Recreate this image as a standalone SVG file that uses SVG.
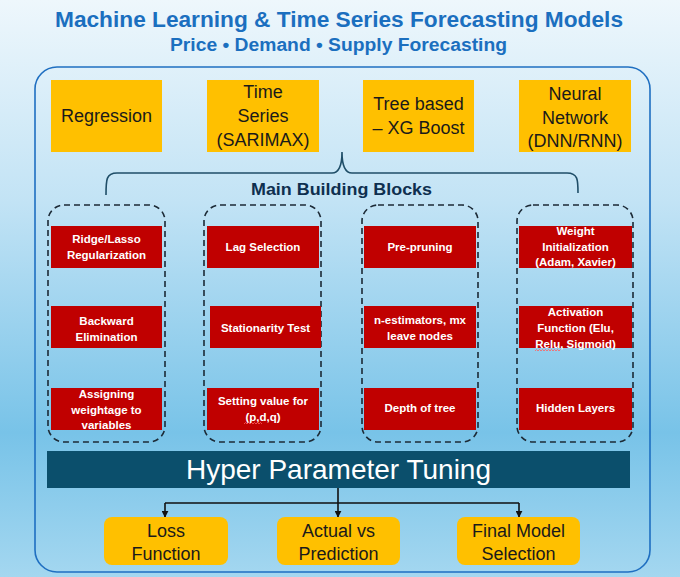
<svg xmlns="http://www.w3.org/2000/svg" width="680" height="577" viewBox="0 0 680 577">
<defs>
<linearGradient id="bg" x1="0" y1="0" x2="0" y2="1">
<stop offset="0" stop-color="#eef7fc"/>
<stop offset="0.35" stop-color="#c2e3f5"/>
<stop offset="0.75" stop-color="#78c3e8"/>
<stop offset="1" stop-color="#a4d7f0"/>
</linearGradient>
<marker id="arr" viewBox="0 0 10 10" refX="9" refY="5" markerWidth="7" markerHeight="7" orient="auto" markerUnits="userSpaceOnUse">
<path d="M0,0 L10,5 L0,10 z" fill="#111"/>
</marker>
<style>
.title{font-family:"Liberation Sans",Arial,sans-serif;font-weight:bold;fill:#1b6fbf;text-anchor:middle}
.yb{fill:#ffc000}
.yt{font-family:"Liberation Sans",Arial,sans-serif;font-size:18px;fill:#1a1a1a;text-anchor:middle}
.dash{fill:none;stroke:#1c2a36;stroke-width:1.6;stroke-dasharray:6 4}
.rb{fill:#c00000}
.rt{font-family:"Liberation Sans",Arial,sans-serif;font-size:11.5px;font-weight:bold;fill:#ffffff;text-anchor:middle}
.conn{fill:none;stroke:#111;stroke-width:1.6}
.sq{fill:none;stroke:#ff6060;stroke-width:0.8}
</style>
</defs>
<rect x="0" y="0" width="680" height="577" fill="url(#bg)"/>
<text class="title" x="339" y="26.5" font-size="22" textLength="568" lengthAdjust="spacingAndGlyphs">Machine Learning &amp; Time Series Forecasting Models</text>
<text class="title" x="338.5" y="51" font-size="17.5" textLength="337" lengthAdjust="spacingAndGlyphs">Price • Demand • Supply Forecasting</text>
<rect id="frame" x="35" y="67" width="615" height="505" rx="22" fill="none" stroke="#1f6fc1" stroke-width="1.6"/>

<g id="model-regression"><rect class="yb" x="51" y="80" width="111" height="72"/><text class="yt" x="106.5" y="122">Regression</text></g>
<g id="model-timeseries"><rect class="yb" x="207" y="80" width="112" height="72"/><text class="yt" x="263" y="98">Time</text><text class="yt" x="263" y="122">Series</text><text class="yt" x="263" y="146">(SARIMAX)</text></g>
<g id="model-tree"><rect class="yb" x="363" y="80" width="111" height="72"/><text class="yt" x="418.5" y="110">Tree based</text><text class="yt" x="418.5" y="134">– XG Boost</text></g>
<g id="model-nn"><rect class="yb" x="519" y="80" width="112" height="72"/><text class="yt" x="575" y="100">Neural</text><text class="yt" x="575" y="124">Network</text><text class="yt" x="575" y="147" font-size="16">(DNN/RNN)</text></g>

<g id="brace">
<path d="M106,195 C106,180 106,173 117,173 L332,173 C339,173 342,166 342,152 C342,166 345,173 352,173 L567,173 C578,173 578,180 578,193" fill="none" stroke="#1f4e68" stroke-width="1.6"/>
<text x="341.5" y="195" font-family="'Liberation Sans',Arial,sans-serif" font-size="17" font-weight="bold" fill="#0e2f4f" text-anchor="middle" textLength="181" lengthAdjust="spacingAndGlyphs">Main Building Blocks</text>
</g>

<g id="col-regression">
<rect class="dash" x="48" y="205" width="117" height="237" rx="16"/>
<g id="b-ridge"><rect class="rb" x="51" y="226" width="111" height="42"/><text class="rt" x="106.5" y="243">Ridge/Lasso</text><text class="rt" x="106.5" y="258.5">Regularization</text></g>
<g id="b-backward"><rect class="rb" x="51" y="306" width="111" height="42"/><text class="rt" x="106.5" y="325">Backward</text><text class="rt" x="106.5" y="340.5">Elimination</text></g>
<g id="b-weight"><rect class="rb" x="51" y="388" width="111" height="42"/><text class="rt" x="106.5" y="398">Assigning</text><text class="rt" x="106.5" y="414">weightage to</text><text class="rt" x="106.5" y="429">variables</text></g>
</g>

<g id="col-timeseries">
<rect class="dash" x="204" y="205" width="117" height="237" rx="16"/>
<g id="b-lag"><rect class="rb" x="207" y="226" width="112" height="42"/><text class="rt" x="263" y="251">Lag Selection</text></g>
<g id="b-stationarity"><rect class="rb" x="210" y="306" width="111" height="42"/><text class="rt" x="265.5" y="332">Stationarity Test</text></g>
<g id="b-pdq"><rect class="rb" x="207" y="388" width="112" height="42"/><text class="rt" x="263" y="405">Setting value for</text><text class="rt" x="263" y="421">(p,d,q)</text>
<path class="sq" d="M244,424 l1.5,-1.5 l1.5,1.5 l1.5,-1.5 l1.5,1.5 l1.5,-1.5 l1.5,1.5 l1.5,-1.5 l1.5,1.5 l1.5,-1.5 l1.5,1.5 l1.5,-1.5 l1.5,1.5"/></g>
</g>

<g id="col-tree">
<rect class="dash" x="362" y="205" width="116" height="237" rx="16"/>
<g id="b-prepruning"><rect class="rb" x="364" y="226" width="112" height="42"/><text class="rt" x="420" y="251">Pre-pruning</text></g>
<g id="b-nestimators"><rect class="rb" x="364" y="306" width="112" height="42"/><text class="rt" x="420" y="324">n-estimators, mx</text><text class="rt" x="420" y="339.5">leave nodes</text></g>
<g id="b-depth"><rect class="rb" x="364" y="388" width="112" height="42"/><text class="rt" x="420" y="412">Depth of tree</text></g>
</g>

<g id="col-nn">
<rect class="dash" x="517" y="205" width="116" height="237" rx="16"/>
<g id="b-init"><rect class="rb" x="519" y="226" width="113" height="42"/><text class="rt" x="575.5" y="235">Weight</text><text class="rt" x="575.5" y="250.5">Initialization</text><text class="rt" x="575.5" y="266">(Adam, Xavier)</text></g>
<g id="b-activation"><rect class="rb" x="519" y="306" width="113" height="42"/><text class="rt" x="575.5" y="316">Activation</text><text class="rt" x="575.5" y="332">Function (Elu,</text><text class="rt" x="575.5" y="347.5">Relu, Sigmoid)</text>
<path class="sq" d="M535,351 l1.5,-1.5 l1.5,1.5 l1.5,-1.5 l1.5,1.5 l1.5,-1.5 l1.5,1.5 l1.5,-1.5 l1.5,1.5 l1.5,-1.5 l1.5,1.5 l1.5,-1.5 l1.5,1.5 l1.5,-1.5 l1.5,1.5 l1.5,-1.5 l1.5,1.5 l1.5,-1.5"/></g>
<g id="b-hidden"><rect class="rb" x="519" y="388" width="113" height="42"/><text class="rt" x="575.5" y="412">Hidden Layers</text></g>
</g>

<g id="hyper"><rect x="47" y="451" width="583" height="37" fill="#0b4f6c"/><text x="338.5" y="479" font-family="'Liberation Sans',Arial,sans-serif" font-size="28" fill="#ffffff" text-anchor="middle">Hyper Parameter Tuning</text></g>

<g id="connectors">
<path class="conn" d="M338,488 V503 M165,503 H519"/>
<path class="conn" d="M165,503 V517" marker-end="url(#arr)"/>
<path class="conn" d="M338,503 V517" marker-end="url(#arr)"/>
<path class="conn" d="M519,503 V517" marker-end="url(#arr)"/>
</g>

<g id="out-loss"><rect class="yb" x="104" y="517" width="124" height="48" rx="8"/><text class="yt" x="166" y="537">Loss</text><text class="yt" x="166" y="560">Function</text></g>
<g id="out-actual"><rect class="yb" x="277" y="517" width="123" height="48" rx="8"/><text class="yt" x="338.5" y="537">Actual vs</text><text class="yt" x="338.5" y="560">Prediction</text></g>
<g id="out-final"><rect class="yb" x="457" y="517" width="123" height="48" rx="8"/><text class="yt" x="518.5" y="537">Final Model</text><text class="yt" x="518.5" y="560">Selection</text></g>
</svg>
